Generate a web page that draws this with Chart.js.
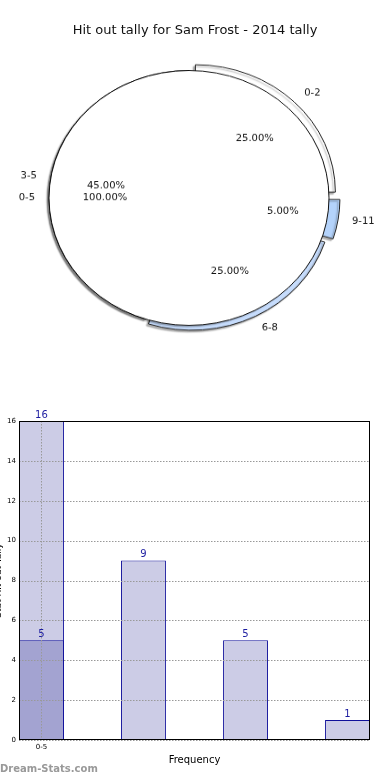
<!DOCTYPE html>
<html>
<head>
<meta charset="utf-8">
<title>Hit out tally for Sam Frost - 2014 tally</title>
<script src="https://cdn.jsdelivr.net/npm/chart.js@4.4.1/dist/chart.umd.min.js"></script>
<style>
  html, body { margin: 0; padding: 0; background: #fff; }
  body { width: 390px; height: 780px; position: relative; overflow: hidden; font-family: "DejaVu Sans", sans-serif; }
  #title { position: absolute; left: 0; top: 22px; width: 390px; text-align: center; font-size: 13px; color: #111; z-index: 3; }
  .pie { position: absolute; left: 0; top: 0; transform: scaleY(0.91); transform-origin: 0 0; }
  #barChart { position: absolute; left: -8px; top: 395px; }
  #credit { position: absolute; left: 0; top: 763px; font-size: 10px; font-weight: bold; color: #999; }
</style>
</head>
<body>
<div id="title">Hit out tally for Sam Frost - 2014 tally</div>
<canvas id="ringChart" class="pie" width="390" height="435"></canvas>
<canvas id="groupChart" class="pie" width="390" height="435"></canvas>
<canvas id="barChart" width="398" height="385"></canvas>
<div id="credit">Dream-Stats.com</div>

<script>
// pie canvases are squashed vertically with css, text gets un-squashed
const SQUASH = 0.91;

const ringLabels = ["0-2", "9-11", "6-8", "3-5"];
const ringShares = [25, 5, 25, 45];
const groupLabels = ["0-5"];
const groupShares = [100];

const barValues = [16, 9, 5, 1];
const overlayValues = [5];
const xTickLabels = ["0-5"];

Chart.defaults.font.family = "'DejaVu Sans', sans-serif";

const dropShadow = {
  id: "dropShadow",
  beforeDatasetsDraw(chart) {
    const ctx = chart.ctx;
    ctx.save();
    ctx.shadowColor = "rgba(0, 0, 0, 0.3)";
    ctx.shadowOffsetX = -2;
    ctx.shadowOffsetY = 2;
    ctx.shadowBlur = 1.5;
  },
  afterDatasetsDraw(chart) {
    chart.ctx.restore();
  },
};

const pieOutline = {
  id: "pieOutline",
  afterDatasetsDraw(chart) {
    const arc = chart.getDatasetMeta(0).data[0];
    const ctx = chart.ctx;
    ctx.save();
    ctx.strokeStyle = "#111";
    ctx.lineWidth = 1;
    ctx.beginPath();
    ctx.arc(arc.x, arc.y, arc.outerRadius, 0, Math.PI * 2);
    ctx.stroke();
    ctx.restore();
  },
};

function putText(ctx, x, y, text, align) {
  ctx.save();
  ctx.translate(x, y);
  ctx.scale(1, 1 / SQUASH);
  ctx.textAlign = align;
  ctx.fillText(text, 0, 0);
  ctx.restore();
}

function pieOptions(rotation) {
  return {
    responsive: false,
    animation: false,
    rotation: rotation,
    radius: 140,
    layout: { padding: { right: 12 } },
    plugins: {
      legend: { display: false },
      tooltip: { enabled: false },
    },
  };
}

const ringChart = new Chart(document.getElementById("ringChart"), {
  type: "doughnut",
  data: {
    labels: ringLabels,
    datasets: [
      {
        data: ringShares,
        backgroundColor: ["#ffffff", "#b4d3fb", "#c6dcfc", "#ffffff"],
        borderColor: "#222",
        borderWidth: 1,
        offset: [36, 26, 24, 0],
      },
    ],
  },
  options: Object.assign(pieOptions(0), { cutout: "89%" }),
  plugins: [dropShadow],
});

const sliceLabels = {
  id: "sliceLabels",
  afterDraw(chart) {
    const ctx = chart.ctx;
    ctx.save();
    ctx.font = "10px 'DejaVu Sans'";
    ctx.fillStyle = "#111";
    ctx.textBaseline = "middle";
    [ringChart, chart].forEach((c) => {
      const ds = c.data.datasets[0];
      const total = ds.data.reduce((a, b) => a + b, 0);
      c.getDatasetMeta(0).data.forEach((arc, i) => {
        const mid = (arc.startAngle + arc.endAngle) / 2;
        const circ = arc.endAngle - arc.startAngle;
        const t = (arc.options.offset || 0) / 4;
        const shift = t + t * (1 - Math.sin(Math.min(Math.PI, circ)));
        const cos = Math.cos(mid);
        const sin = Math.sin(mid);
        const rName = arc.outerRadius * 1.1 + shift;
        const rPct = arc.outerRadius * 0.6 + shift;
        putText(ctx, arc.x + cos * rName, arc.y + sin * rName, c.data.labels[i], cos >= 0 ? "left" : "right");
        const pct = ((ds.data[i] / total) * 100).toFixed(2) + "%";
        putText(ctx, arc.x + cos * rPct, arc.y + sin * rPct, pct, "center");
      });
    });
    ctx.restore();
  },
};

new Chart(document.getElementById("groupChart"), {
  type: "pie",
  data: {
    labels: groupLabels,
    datasets: [
      {
        data: groupShares,
        backgroundColor: "#ffffff",
        borderWidth: 0,
      },
    ],
  },
  options: pieOptions(90),
  plugins: [dropShadow, pieOutline, sliceLabels],
});

// matplotlib-style dotted grid sits over the bars
const gridOnTop = {
  id: "gridOnTop",
  afterDatasetsDraw(chart) {
    const a = chart.chartArea;
    const ctx = chart.ctx;
    ctx.save();
    ctx.strokeStyle = "#999";
    ctx.lineWidth = 1;
    ctx.setLineDash([1.5, 1.5]);
    ctx.beginPath();
    chart.scales.y.ticks.forEach((t) => {
      const py = Math.round(chart.scales.y.getPixelForValue(t.value)) + 0.5;
      ctx.moveTo(a.left, py);
      ctx.lineTo(a.right, py);
    });
    chart.scales.x.ticks.forEach((t) => {
      const px = Math.round(chart.scales.x.getPixelForValue(t.value)) + 0.5;
      ctx.moveTo(px, a.top);
      ctx.lineTo(px, a.bottom);
    });
    ctx.stroke();
    ctx.restore();
  },
};

const valueLabels = {
  id: "valueLabels",
  afterDraw(chart) {
    const ctx = chart.ctx;
    ctx.save();
    ctx.font = "10px 'DejaVu Sans'";
    ctx.fillStyle = "#1c1ca0";
    ctx.textAlign = "center";
    ctx.textBaseline = "bottom";
    chart.data.datasets.forEach((ds, di) => {
      chart.getDatasetMeta(di).data.forEach((bar, i) => {
        ctx.fillText(String(ds.data[i].y), bar.x, bar.y - 1);
      });
    });
    ctx.restore();
  },
};

const plotFrame = {
  id: "plotFrame",
  afterDraw(chart) {
    const a = chart.chartArea;
    const ctx = chart.ctx;
    ctx.save();
    ctx.strokeStyle = "#000";
    ctx.lineWidth = 1;
    ctx.strokeRect(a.left + 0.5, a.top + 0.5, a.width - 1, a.height - 1);
    ctx.restore();
  },
};

new Chart(document.getElementById("barChart"), {
  type: "bar",
  data: {
    datasets: [
      {
        data: overlayValues.map((v, i) => ({ x: i, y: v })),
        backgroundColor: "#a3a3d1",
        borderColor: "#10109a",
        borderWidth: 1,
        grouped: false,
        categoryPercentage: 1,
        barPercentage: 0.44,
      },
      {
        data: barValues.map((v, i) => ({ x: i, y: v })),
        backgroundColor: "#ccccE6",
        borderColor: "#10109a",
        borderWidth: 1,
        grouped: false,
        categoryPercentage: 1,
        barPercentage: 0.44,
      },
    ],
  },
  options: {
    responsive: false,
    animation: false,
    layout: { padding: { top: 26, right: 20, left: 0, bottom: 0 } },
    plugins: {
      legend: { display: false },
      tooltip: { enabled: false },
    },
    scales: {
      x: {
        type: "linear",
        offset: false,
        min: -0.22,
        max: 3.22,
        afterBuildTicks(scale) {
          scale.ticks = xTickLabels.map((_, i) => ({ value: i }));
        },
        afterFit(scale) {
          scale.height = 40;
        },
        ticks: {
          callback: (v) => xTickLabels[v] ?? "",
          font: { size: 7 },
          color: "#000",
          padding: 3,
          maxRotation: 0,
        },
        grid: { display: false, drawTicks: false },
        border: { display: false },
        title: {
          display: true,
          text: "Frequency",
          font: { size: 10 },
          color: "#000",
          padding: { top: 0, bottom: 14 },
        },
      },
      y: {
        min: 0,
        max: 16,
        afterFit(scale) {
          scale.width = 27;
        },
        ticks: {
          stepSize: 2,
          font: { size: 7 },
          color: "#000",
          padding: 3,
        },
        grid: { display: false, drawTicks: false },
        border: { display: false },
        title: {
          display: true,
          text: "Stat Hit out Tally",
          font: { size: 9 },
          color: "#000",
          padding: { top: 1, bottom: 0 },
        },
      },
    },
  },
  plugins: [gridOnTop, valueLabels, plotFrame],
});
</script>
</body>
</html>
